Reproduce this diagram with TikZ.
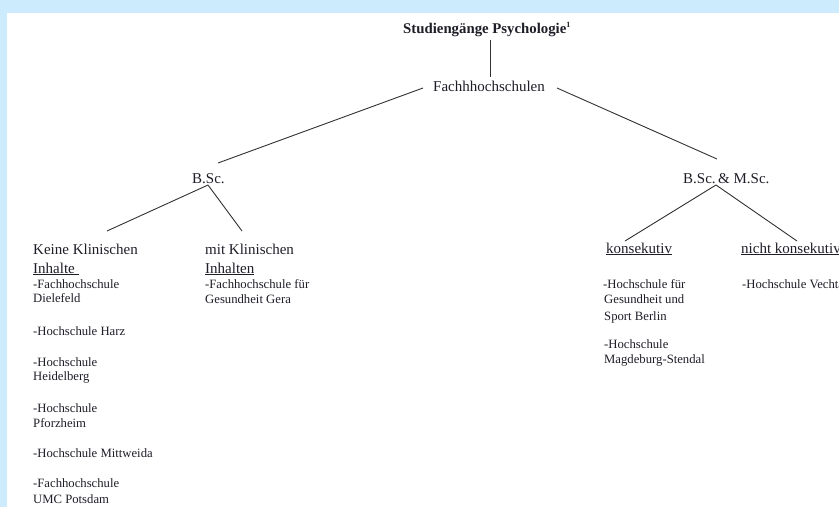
\documentclass[tikz,border=0pt]{standalone}
\usepackage{fontspec}
\setmainfont{Liberation Serif}
\definecolor{frameblue}{RGB}{204,235,253}
\definecolor{inkc}{RGB}{30,30,40}
\definecolor{linec}{RGB}{50,50,50}
\tikzset{
  head/.style={anchor=base west, inner sep=0pt, text=inkc, font=\fontsize{15}{18}\selectfont},
  item/.style={anchor=base west, inner sep=0pt, text=inkc, font=\fontsize{12.7}{15}\selectfont},
  titlestyle/.style={anchor=base west, inner sep=0pt, text=inkc, font=\bfseries\fontsize{14.8}{18}\selectfont},
  conn/.style={draw=linec, line width=0.9pt}
}
\newcommand{\ul}[1]{\underline{#1}}
\begin{document}
\begin{tikzpicture}[x=1pt,y=-1pt]
\useasboundingbox (0,0) rectangle (839,507);
\clip (0,0) rectangle (839,507);
\fill[frameblue] (0,0) rectangle (839,507);
\fill[white] (7,13) rectangle (839,507);

% title and top level
\node[titlestyle] (title) at (403,33) {Studiengänge Psychologie\textsuperscript{\fontsize{8}{8}\selectfont 1}};
\node[head] (fh) at (433,91) {Fachhhochschulen};
\coordinate (title-b) at (490,40);
\coordinate (fh-t) at (490,77);
\draw[conn] (title-b) -- (fh-t);

% second level
\node[head] (bsc) at (192,183) {B.Sc.};
\node[head] (bmsc) at (683,183) {B.Sc.\,\& M.Sc.};
\coordinate (fh-l) at (423,88);
\coordinate (fh-r) at (557,88);
\coordinate (bsc-t) at (218,163);
\coordinate (bmsc-t) at (717,159);
\draw[conn] (fh-l) -- (bsc-t);
\draw[conn] (fh-r) -- (bmsc-t);

% third level left
\coordinate (bsc-b) at (208,185);
\coordinate (kk-t) at (107,231);
\coordinate (mk-t) at (242,231);
\draw[conn] (bsc-b) -- (kk-t);
\draw[conn] (bsc-b) -- (mk-t);

\node[head] (kk1) at (33,254) {Keine Klinischen};
\node[head] (kk2) at (33,273) {\ul{Inhalte~}};
\node[item] (a1) at (33,288) {-Fachhochschule};
\node[item] (a2) at (33,302) {Dielefeld};
\node[item] (a3) at (33,335) {-Hochschule Harz};
\node[item] (a4) at (33,366) {-Hochschule};
\node[item] (a5) at (33,380) {Heidelberg};
\node[item] (a6) at (33,412) {-Hochschule};
\node[item] (a7) at (33,427) {Pforzheim};
\node[item] (a8) at (33,457) {-Hochschule Mittweida};
\node[item] (a9) at (33,487) {-Fachhochschule};
\node[item] (a10) at (33,503) {UMC Potsdam};

\node[head] (mk1) at (205,254) {mit Klinischen};
\node[head] (mk2) at (205,273) {\ul{Inhalten}};
\node[item] (b1) at (205,288) {-Fachhochschule für};
\node[item] (b2) at (205,303) {Gesundheit Gera};

% third level right
\coordinate (bmsc-b) at (716,185);
\coordinate (ko-t) at (625,241);
\coordinate (nk-t) at (797,241);
\draw[conn] (bmsc-b) -- (ko-t);
\draw[conn] (bmsc-b) -- (nk-t);

\node[head] (ko) at (606,253) {\ul{konsekutiv}};
\node[head] (nk) at (741,253) {\ul{nicht konsekutiv}};
\node[item] (c1) at (603,288) {-Hochschule für};
\node[item] (c2) at (604,303) {Gesundheit und};
\node[item] (c3) at (604,320) {Sport Berlin};
\node[item] (c4) at (604,348) {-Hochschule};
\node[item] (c5) at (604,363) {Magdeburg-Stendal};
\node[item] (d1) at (742,288) {-Hochschule Vechta};
\end{tikzpicture}
\end{document}
